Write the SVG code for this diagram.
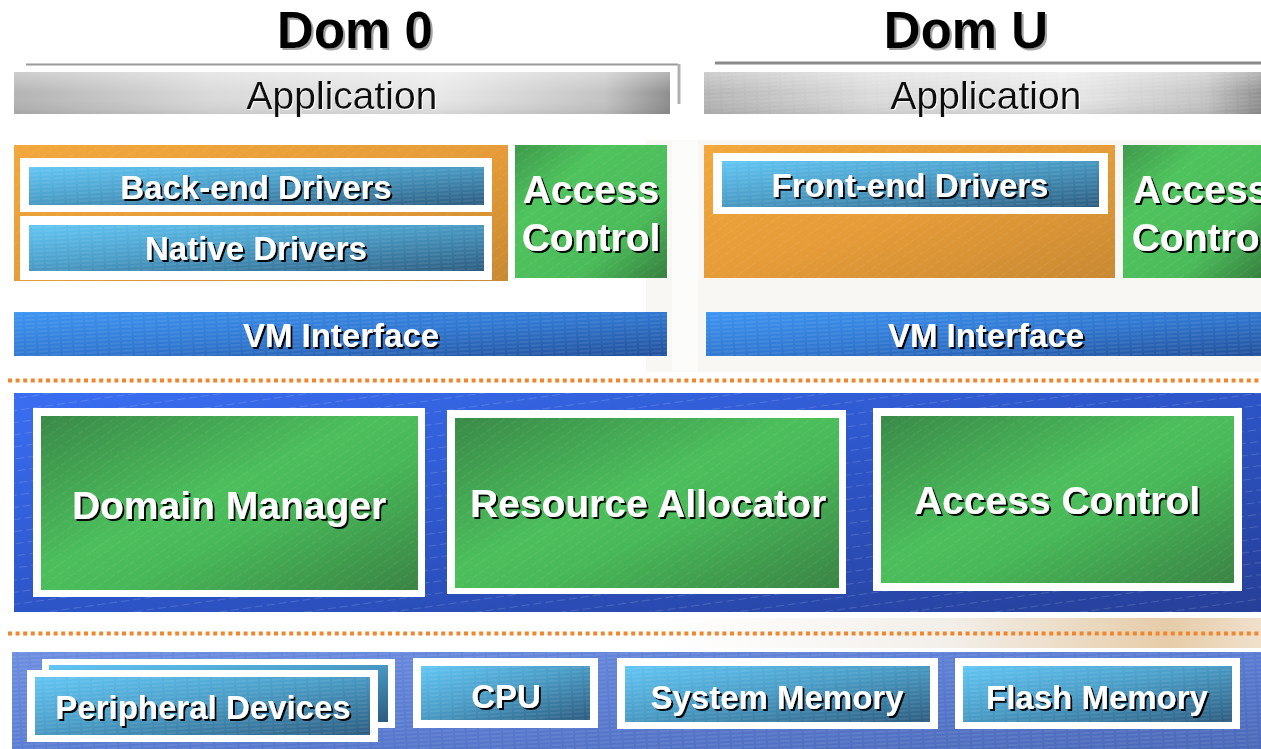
<svg xmlns="http://www.w3.org/2000/svg" width="1261" height="749" viewBox="0 0 1261 749">
<defs>
<linearGradient id="gApp" x1="0" y1="0" x2="1" y2="0">
<stop offset="0" stop-color="#b4b4b4"/><stop offset="0.3" stop-color="#dadada"/><stop offset="0.65" stop-color="#e8e8e8"/><stop offset="0.9" stop-color="#c4c4c4"/><stop offset="1" stop-color="#8e8e8e"/>
</linearGradient>
<linearGradient id="gAppV" x1="0" y1="0" x2="0" y2="1">
<stop offset="0" stop-color="#ffffff" stop-opacity="0.35"/><stop offset="0.5" stop-color="#ffffff" stop-opacity="0"/><stop offset="1" stop-color="#000000" stop-opacity="0.08"/>
</linearGradient>
<linearGradient id="gOrange" x1="0" y1="0" x2="1" y2="1">
<stop offset="0" stop-color="#f2a83c"/><stop offset="0.5" stop-color="#e69c38"/><stop offset="1" stop-color="#c98a32"/>
</linearGradient>
<linearGradient id="gGreen" x1="0" y1="0" x2="1" y2="1">
<stop offset="0" stop-color="#3a8a48"/><stop offset="0.45" stop-color="#4cbf5c"/><stop offset="0.6" stop-color="#48b858"/><stop offset="1" stop-color="#3a8444"/>
</linearGradient>
<linearGradient id="gGreenS" x1="0" y1="0" x2="1" y2="1">
<stop offset="0" stop-color="#3f9a4c"/><stop offset="0.3" stop-color="#4fc35d"/><stop offset="0.7" stop-color="#4bbb5a"/><stop offset="1" stop-color="#37803f"/>
</linearGradient>
<linearGradient id="gBtn" x1="0" y1="0" x2="1" y2="1">
<stop offset="0" stop-color="#62c6f4"/><stop offset="0.45" stop-color="#4a9ec8"/><stop offset="1" stop-color="#2c5c80"/>
</linearGradient>
<linearGradient id="gVM" x1="0" y1="0" x2="1" y2="1">
<stop offset="0" stop-color="#3d95f2"/><stop offset="0.5" stop-color="#3078d2"/><stop offset="1" stop-color="#22509a"/>
</linearGradient>
<linearGradient id="gHyp" x1="0" y1="0" x2="1" y2="1">
<stop offset="0" stop-color="#3a6ef2"/><stop offset="0.5" stop-color="#2d55c8"/><stop offset="1" stop-color="#263f98"/>
</linearGradient>
<linearGradient id="gHw" x1="0" y1="0" x2="1" y2="1">
<stop offset="0" stop-color="#6d8ee0"/><stop offset="0.5" stop-color="#5a7cd2"/><stop offset="1" stop-color="#4a68b8"/>
</linearGradient>
<linearGradient id="gBeige" x1="0" y1="0" x2="1" y2="0">
<stop offset="0" stop-color="#f6f4f0" stop-opacity="0"/><stop offset="0.5" stop-color="#f2eee8"/><stop offset="0.85" stop-color="#e6cca8"/><stop offset="1" stop-color="#f0e0cc"/>
</linearGradient>
<pattern id="pDiag" width="8" height="8" patternUnits="userSpaceOnUse" patternTransform="rotate(-35)">
<line x1="0" y1="0" x2="8" y2="0" stroke="#ffffff" stroke-opacity="0.14" stroke-width="1" stroke-dasharray="5 2"/>
</pattern>
<pattern id="pHyp" width="24" height="12" patternUnits="userSpaceOnUse" patternTransform="rotate(-8)">
<line x1="0" y1="0" x2="24" y2="0" stroke="#ffffff" stroke-opacity="0.3" stroke-width="1" stroke-dasharray="8 4"/>
</pattern>
<pattern id="pHor" width="12" height="4" patternUnits="userSpaceOnUse" patternTransform="rotate(-3)">
<line x1="0" y1="1" x2="12" y2="1" stroke="#ffffff" stroke-opacity="0.16" stroke-width="1" stroke-dasharray="6 2"/>
</pattern>
<filter id="shW" x="-10%" y="-20%" width="130%" height="150%">
<feDropShadow dx="2" dy="2" stdDeviation="0.3" flood-color="#000000" flood-opacity="0.95"/>
</filter>
<filter id="shK" x="-10%" y="-20%" width="130%" height="150%">
<feDropShadow dx="2" dy="2" stdDeviation="0.5" flood-color="#8a8a8a" flood-opacity="0.8"/>
</filter>
<filter id="shL" x="-10%" y="-20%" width="130%" height="150%">
<feDropShadow dx="1" dy="1" stdDeviation="0.3" flood-color="#ffffff" flood-opacity="0.9"/>
</filter>
<clipPath id="clipR"><rect x="0" y="0" width="1261" height="749"/></clipPath>
</defs>
<style>
.t{font-family:"Liberation Sans",Arial,Helvetica,sans-serif;text-anchor:middle}
.wt{fill:#ffffff;font-weight:bold;filter:url(#shW)}
.btn{font-size:33px}
.big{font-size:39px}
.title{font-size:51px;font-weight:bold;fill:#000000;filter:url(#shK)}
.app{font-size:39px;fill:#111111;filter:url(#shL)}
.frame{fill:#ffffff}
.dot{stroke:#f0872e;stroke-width:4;stroke-dasharray:4 3.6;fill:none}
</style>

<rect x="0" y="0" width="1261" height="749" fill="#ffffff"/>
<!-- faint backgrounds -->
<rect x="646" y="140" width="615" height="232" fill="#f8f7f4"/>
<rect x="672" y="140" width="26" height="232" fill="#fcfcfb"/>
<rect x="646" y="618" width="615" height="30" fill="url(#gBeige)"/>

<!-- titles -->
<g id="title-dom0">
<text class="t title" x="355" y="48">Dom 0</text>
</g>
<g id="title-domu">
<text class="t title" x="966" y="48">Dom U</text>
</g>

<!-- Application Dom 0 -->
<g id="app-dom0">
<line x1="26" y1="64.5" x2="678" y2="64.5" stroke="#9a9a9a" stroke-width="2"/>
<line x1="679" y1="64" x2="679" y2="104" stroke="#b0b0b0" stroke-width="3"/>
<rect x="14" y="72" width="656" height="42" fill="url(#gApp)"/>
<rect x="14" y="72" width="656" height="42" fill="url(#gAppV)"/>
<text class="t app" x="342" y="109">Application</text>
</g>

<!-- Application Dom U -->
<g id="app-domu">
<line x1="715" y1="63" x2="1261" y2="63" stroke="#8a8a8a" stroke-width="3"/>
<rect x="704" y="72" width="557" height="42" fill="url(#gApp)"/>
<rect x="704" y="72" width="557" height="42" fill="url(#pHor)"/>
<rect x="704" y="72" width="557" height="42" fill="url(#gAppV)"/>
<text class="t app" x="986" y="109">Application</text>
</g>

<!-- Dom 0 drivers -->
<g id="dom0-drivers">
<rect x="14" y="145" width="494" height="136" fill="url(#gOrange)"/>
<rect x="14" y="145" width="494" height="136" fill="url(#pDiag)"/>
</g>
<g id="backend-drivers">
<rect class="frame" x="20" y="158" width="472" height="54"/>
<rect x="29" y="167" width="455" height="38" fill="url(#gBtn)"/>
<rect x="29" y="167" width="455" height="38" fill="url(#pHor)"/>
<text class="t wt btn" x="256" y="199">Back-end Drivers</text>
</g>
<g id="native-drivers">
<rect class="frame" x="20" y="216" width="472" height="64"/>
<rect x="29" y="225" width="455" height="46" fill="url(#gBtn)"/>
<rect x="29" y="225" width="455" height="46" fill="url(#pHor)"/>
<text class="t wt btn" x="256" y="260">Native Drivers</text>
</g>
<g id="dom0-access-control">
<rect x="515" y="145" width="152" height="133" fill="url(#gGreenS)"/>
<rect x="515" y="145" width="152" height="133" fill="url(#pDiag)"/>
<text class="t wt big" x="591" y="203">Access</text>
<text class="t wt big" x="591" y="251">Control</text>
</g>
<g id="dom0-vm-interface">
<rect x="14" y="312" width="653" height="44" fill="url(#gVM)"/>
<rect x="14" y="312" width="653" height="44" fill="url(#pHor)"/>
<text class="t wt btn" x="341" y="347">VM Interface</text>
</g>

<!-- Dom U -->
<g id="domu-drivers">
<rect x="704" y="145" width="411" height="133" fill="url(#gOrange)"/>
<rect x="704" y="145" width="411" height="133" fill="url(#pDiag)"/>
</g>
<g id="frontend-drivers">
<rect class="frame" x="713" y="153" width="395" height="61"/>
<rect x="722" y="161" width="377" height="46" fill="url(#gBtn)"/>
<rect x="722" y="161" width="377" height="46" fill="url(#pHor)"/>
<text class="t wt btn" x="910" y="197">Front-end Drivers</text>
</g>
<g id="domu-access-control" clip-path="url(#clipR)">
<rect x="1123" y="145" width="138" height="133" fill="url(#gGreenS)"/>
<rect x="1123" y="145" width="138" height="133" fill="url(#pDiag)"/>
<text class="t wt big" x="1201" y="203">Access</text>
<text class="t wt big" x="1201" y="251">Control</text>
</g>
<g id="domu-vm-interface">
<rect x="706" y="312" width="555" height="44" fill="url(#gVM)"/>
<rect x="706" y="312" width="555" height="44" fill="url(#pHor)"/>
<text class="t wt btn" x="986" y="347">VM Interface</text>
</g>

<!-- separators -->
<g id="connectors">
<line class="dot" x1="8" y1="380.5" x2="1261" y2="380.5"/>
<line class="dot" x1="8" y1="633.5" x2="1261" y2="633.5"/>
</g>

<!-- Hypervisor -->
<g id="hypervisor">
<rect x="14" y="393" width="1247" height="219" fill="url(#gHyp)"/>
<rect x="14" y="393" width="1247" height="219" fill="url(#pHyp)"/>
</g>
<g id="domain-manager">
<rect class="frame" x="33" y="408" width="392" height="189"/>
<rect x="41" y="416" width="377" height="174" fill="url(#gGreen)"/>
<rect x="41" y="416" width="377" height="174" fill="url(#pDiag)"/>
<text class="t wt big" x="229" y="519">Domain Manager</text>
</g>
<g id="resource-allocator">
<rect class="frame" x="447" y="410" width="399" height="184"/>
<rect x="455" y="418" width="384" height="170" fill="url(#gGreen)"/>
<rect x="455" y="418" width="384" height="170" fill="url(#pDiag)"/>
<text class="t wt big" x="648" y="517">Resource Allocator</text>
</g>
<g id="hyp-access-control">
<rect class="frame" x="873" y="408" width="369" height="183"/>
<rect x="881" y="416" width="353" height="167" fill="url(#gGreen)"/>
<rect x="881" y="416" width="353" height="167" fill="url(#pDiag)"/>
<text class="t wt big" x="1057" y="514">Access Control</text>
</g>

<!-- Hardware -->
<g id="hardware">
<rect x="12" y="652" width="1249" height="97" fill="url(#gHw)"/>
<rect x="12" y="652" width="1249" height="97" fill="url(#pHor)"/>
</g>
<g id="peripheral-devices">
<rect class="frame" x="42" y="659" width="353" height="69"/>
<rect x="49" y="665" width="339" height="57" fill="url(#gBtn)"/>
<rect class="frame" x="27" y="670" width="351" height="72"/>
<rect x="35" y="677" width="335" height="58" fill="url(#gBtn)"/>
<rect x="35" y="677" width="335" height="58" fill="url(#pHor)"/>
<text class="t wt btn" x="203" y="719">Peripheral Devices</text>
</g>
<g id="cpu">
<rect class="frame" x="413" y="658" width="185" height="70"/>
<rect x="421" y="666" width="169" height="54" fill="url(#gBtn)"/>
<rect x="421" y="666" width="169" height="54" fill="url(#pHor)"/>
<text class="t wt btn" x="506" y="708">CPU</text>
</g>
<g id="system-memory">
<rect class="frame" x="617" y="658" width="321" height="71"/>
<rect x="625" y="666" width="305" height="56" fill="url(#gBtn)"/>
<rect x="625" y="666" width="305" height="56" fill="url(#pHor)"/>
<text class="t wt btn" x="777" y="709">System Memory</text>
</g>
<g id="flash-memory">
<rect class="frame" x="955" y="658" width="285" height="71"/>
<rect x="963" y="666" width="269" height="56" fill="url(#gBtn)"/>
<rect x="963" y="666" width="269" height="56" fill="url(#pHor)"/>
<text class="t wt btn" x="1097" y="709">Flash Memory</text>
</g>
</svg>
